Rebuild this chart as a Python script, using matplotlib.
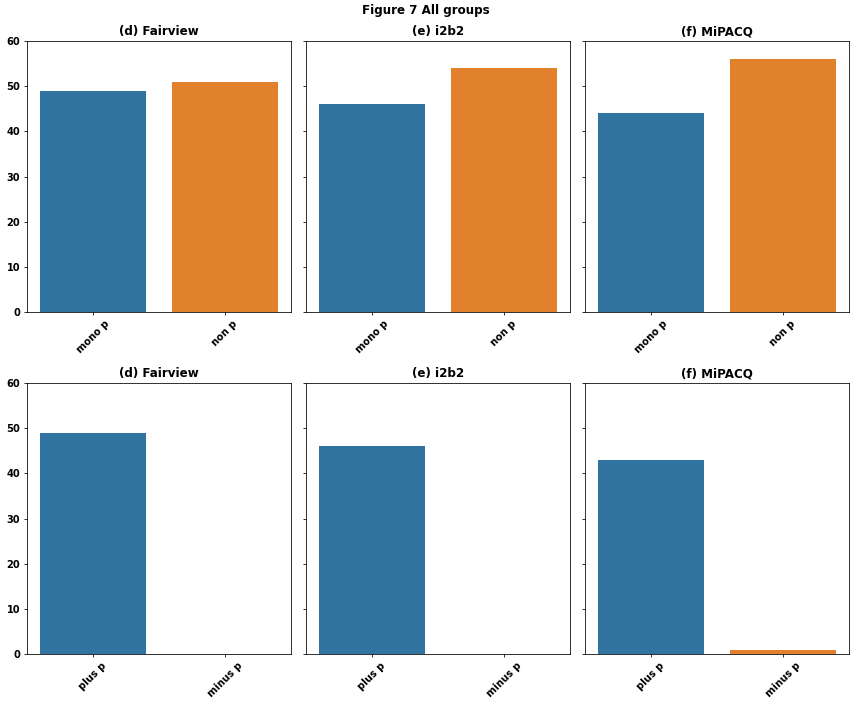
import matplotlib.pyplot as plt
import numpy as np

datasets = ['(d) Fairview', '(e) i2b2', '(f) MiPACQ']
top_labels = ['mono p', 'non p']
bottom_labels = ['plus p', 'minus p']
top_values = [[49, 51], [46, 54], [44, 56]]
bottom_values = [[49, 0], [46, 0], [43, 1]]

colors = ['#3274a1', '#e1812c']

plt.rcParams['font.weight'] = 'bold'

fig, axes = plt.subplots(2, 3, figsize=(852 / 71, 705 / 71), dpi=71, sharey=True)

for row, (labels, values) in enumerate([(top_labels, top_values), (bottom_labels, bottom_values)]):
    for col, name in enumerate(datasets):
        ax = axes[row][col]
        x = np.arange(len(labels))
        ax.bar(x, values[col], width=0.8, color=colors)
        ax.set_xticks(x)
        ax.set_xticklabels(labels, rotation=45, fontweight='bold')
        ax.set_xlim(-0.5, 1.5)
        ax.set_ylim(0, 60)
        ax.set_title(name, fontweight='bold', fontsize=12)
        for lab in ax.get_yticklabels():
            lab.set_fontweight('bold')

fig.suptitle('Figure 7 All groups', fontweight='bold', fontsize=12, y=0.995)
plt.subplots_adjust(left=0.0317, right=0.9965, top=0.9418, bottom=0.0723,
                    wspace=0.057, hspace=0.262)
plt.savefig('out.png', dpi=71)
